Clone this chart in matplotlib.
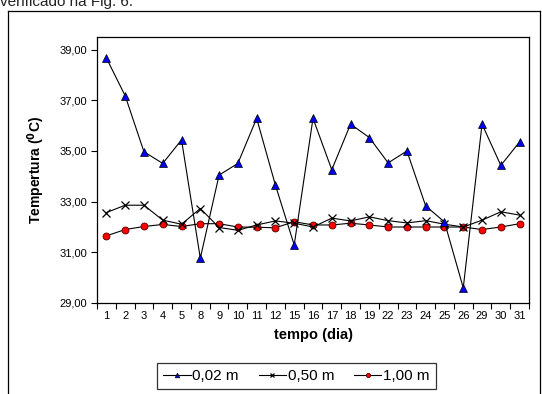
import matplotlib
matplotlib.use("Agg")
import matplotlib.pyplot as plt
from matplotlib.lines import Line2D
from matplotlib.ticker import FuncFormatter, FixedLocator

plt.rcParams['font.family'] = ['Liberation Sans', 'DejaVu Sans']

days = ['1', '2', '3', '4', '5', '8', '9', '10', '11', '12', '15', '16', '17',
        '18', '19', '22', '23', '24', '25', '26', '29', '30', '31']
t_002 = [38.67, 37.18, 34.97, 34.51, 35.44, 30.77, 34.05, 34.51, 36.29, 33.65,
         31.29, 36.29, 34.26, 36.06, 35.53, 34.53, 35.00, 32.83, 32.20, 29.60,
         36.06, 34.43, 35.36]
t_050 = [32.57, 32.86, 32.86, 32.27, 32.11, 32.73, 31.98, 31.87, 32.08, 32.24,
         32.15, 32.00, 32.35, 32.24, 32.40, 32.25, 32.16, 32.25, 32.11, 32.00,
         32.27, 32.60, 32.47]
t_100 = [31.65, 31.90, 32.02, 32.10, 32.02, 32.13, 32.13, 32.00, 31.99, 31.97,
         32.21, 32.08, 32.08, 32.15, 32.08, 32.00, 32.00, 32.00, 32.00, 32.00,
         31.90, 32.00, 32.13]
series_labels = ['0,02 m', '0,50 m', '1,00 m']
yticks = [29, 31, 33, 35, 37, 39]

W, H = 542, 394
fig = plt.figure(figsize=(W / 100, H / 100), dpi=100)
ax = fig.add_axes([97 / W, 1 - 303 / H, (529 - 97) / W, (303 - 37) / H])

x = list(range(len(days)))
ax.plot(x, t_100, color='black', lw=0.8, marker='o', ms=5, mfc='#ff0000',
        mec='#550000', mew=0.6, label=series_labels[2], zorder=3)
ax.plot(x, t_050, color='black', lw=0.8, marker='x', ms=6, mec='black',
        mew=0.9, label=series_labels[1], zorder=4)
ax.plot(x, t_002, color='black', lw=0.8, marker='^', ms=5.5, mfc='#0000ee',
        mec='black', mew=0.5, label=series_labels[0], zorder=5)

ax.set_xlim(-0.5, len(days) - 0.5)
ax.set_ylim(29, 39.5)
ax.set_yticks(yticks)
ax.yaxis.set_major_formatter(FuncFormatter(lambda v, p: f"{v:.2f}".replace('.', ',')))
ax.set_xticks(x)
ax.set_xticklabels(days)
ax.xaxis.set_minor_locator(FixedLocator([i - 0.5 for i in range(len(days) + 1)]))
ax.tick_params(axis='x', which='major', length=0, labelsize=8, pad=6)
ax.tick_params(axis='x', which='minor', length=4, width=0.8, direction='out')
ax.tick_params(axis='y', length=4, width=0.8, direction='out', labelsize=8, pad=3)
for s in ax.spines.values():
    s.set_linewidth(0.9)

ax.set_xlabel('tempo (dia)', fontsize=10.5, fontweight='bold', labelpad=5)
ax.set_ylabel('Tempertura ($^{\\mathbf{0}}$C)', fontsize=10, fontweight='bold', labelpad=9)

handles, labels = ax.get_legend_handles_labels()
order = [2, 1, 0]
leg = fig.legend([handles[i] for i in order], [labels[i] for i in order],
                 loc='upper left', bbox_to_anchor=(157 / W, 1 - 363 / H),
                 ncol=3, fontsize=11, frameon=True, fancybox=False,
                 edgecolor='black', handlelength=1.8, handletextpad=0.1,
                 columnspacing=1.3, borderpad=0.4, borderaxespad=0,
                 markerscale=0.6)
leg.get_frame().set_linewidth(0.9)

# outer chart frame
fig.add_artist(Line2D([8 / W, 8 / W], [0, 1 - 11 / H], transform=fig.transFigure,
                      color='black', lw=0.9))
fig.add_artist(Line2D([8 / W, 540 / W], [1 - 11 / H, 1 - 11 / H],
                      transform=fig.transFigure, color='black', lw=0.9))
fig.add_artist(Line2D([540 / W, 540 / W], [0, 1 - 11 / H], transform=fig.transFigure,
                      color='black', lw=0.9))

fig.text(0, 1 - 6 / H, 'verificado na Fig. 6.', fontsize=11, va='baseline',
         ha='left', color='#222222')

fig.savefig('out.png', dpi=100)
